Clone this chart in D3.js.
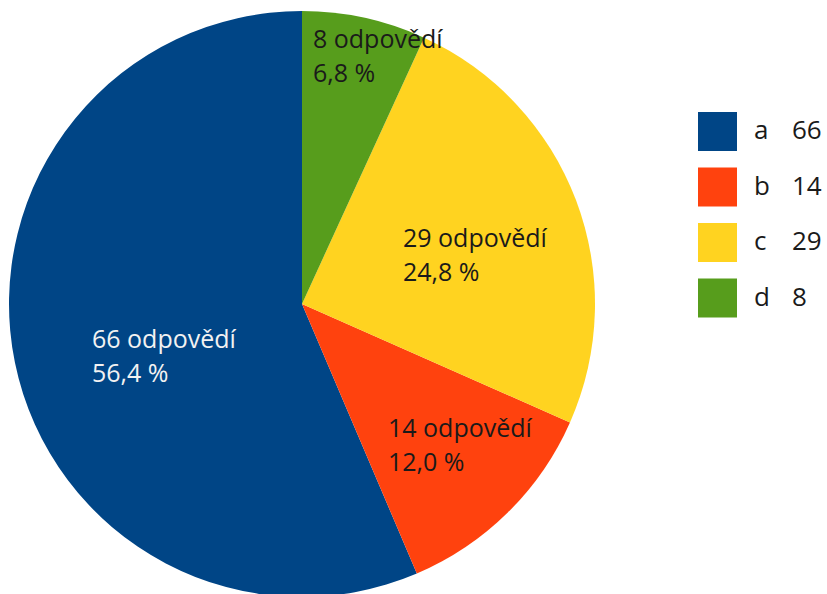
<!DOCTYPE html>
<html>
<head>
<meta charset="utf-8">
<script src="https://cdn.jsdelivr.net/npm/d3@7"></script>
<style>
  html, body { margin: 0; padding: 0; background: #ffffff; }
  svg { display: block; }
  text { font-family: "Open Sans", "Noto Sans", sans-serif; }
</style>
</head>
<body>
<svg id="chart" width="827" height="594"></svg>
<script>
// ---- data ----
const categories = ["a", "b", "c", "d"];
const counts = [66, 14, 29, 8];
const percentLabels = ["56,4 %", "12,0 %", "24,8 %", "6,8 %"];
const unitLabel = "odpovědí";

// ---- styles / layout (kept apart from data) ----
const colors = ["#004586", "#ff420e", "#ffd320", "#579d1c"];
const labelColors = ["#f2f2f2", "#1a1a1a", "#1a1a1a", "#1a1a1a"];
// label anchor offsets relative to pie centre (left-aligned, first baseline)
const labelOffsets = [[-210, 44], [86, 133], [101, -57], [11, -256]];

const W = 827, H = 594;
const cx = 302, cy = 304, R = 293;
const fontSize = 25, lineGap = 34;

const svg = d3.select("#chart");

const pie = d3.pie().sort(null).startAngle(0).endAngle(-2 * Math.PI).value(d => d);
const arcs = pie(counts);
const arc = d3.arc().innerRadius(0).outerRadius(R);

const g = svg.append("g").attr("transform", `translate(${cx},${cy})`);

g.selectAll("path.slice")
  .data(arcs)
  .join("path")
  .attr("class", "slice")
  .attr("d", arc)
  .attr("fill", (d, i) => colors[i]);

const labels = g.selectAll("text.lbl")
  .data(arcs)
  .join("text")
  .attr("class", "lbl")
  .attr("x", (d, i) => labelOffsets[i][0])
  .attr("y", (d, i) => labelOffsets[i][1])
  .attr("fill", (d, i) => labelColors[i])
  .style("font-size", fontSize + "px");

labels.append("tspan")
  .attr("x", (d, i) => labelOffsets[i][0])
  .text(d => `${d.data} ${unitLabel}`);
labels.append("tspan")
  .attr("x", (d, i) => labelOffsets[i][0])
  .attr("dy", lineGap)
  .text((d, i) => percentLabels[i]);

// ---- legend ----
const legendY = d3.scaleBand().domain(categories).range([112, 334]).paddingInner(0);
const sw = 39;
const leg = svg.append("g");
const items = leg.selectAll("g.item")
  .data(categories)
  .join("g")
  .attr("class", "item")
  .attr("transform", d => `translate(698,${legendY(d)})`);

items.append("rect")
  .attr("width", sw)
  .attr("height", sw)
  .attr("fill", (d, i) => colors[i]);

items.append("text")
  .attr("x", 56)
  .attr("y", 27)
  .attr("fill", "#1a1a1a")
  .style("font-size", "26px")
  .text(d => d);

items.append("text")
  .attr("x", 94)
  .attr("y", 27)
  .attr("fill", "#1a1a1a")
  .style("font-size", "26px")
  .text((d, i) => counts[i]);
</script>
</body>
</html>
